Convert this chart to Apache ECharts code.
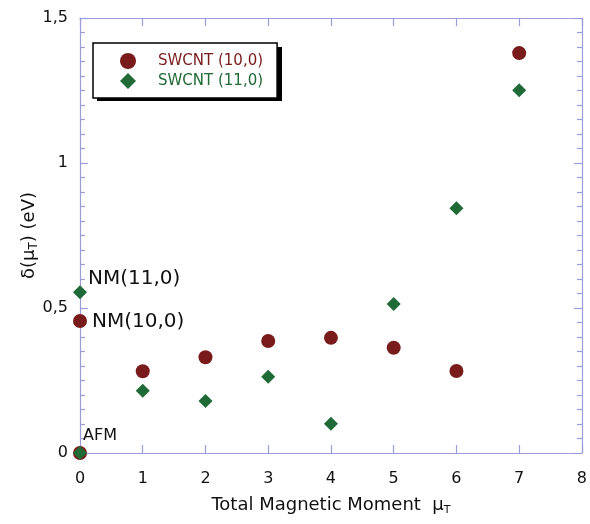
<!DOCTYPE html>
<html>
<head>
<meta charset="utf-8">
<script src="https://cdn.jsdelivr.net/npm/echarts@6/dist/echarts.min.js"></script>
<style>html,body{margin:0;padding:0;background:#fff;}#chart{width:590px;height:524px;}</style>
</head>
<body>
<div id="chart"></div>
<script>
// Data
const seriesNames = ['SWCNT (10,0)', 'SWCNT (11,0)'];
const momentsA = [0, 0, 1, 2, 3, 4, 5, 6, 7];
const swcnt10 = [0, 0.455, 0.282, 0.330, 0.386, 0.397, 0.363, 0.283, 1.379];
const momentsB = [0, 0, 1, 2, 3, 4, 5, 6, 7];
const swcnt11 = [0, 0.554, 0.215, 0.179, 0.263, 0.101, 0.514, 0.844, 1.251];
// annotations: [series index, point index, text]
const annotations = [[0, 1, 'NM(10,0)'], [1, 1, 'NM(11,0)'], [1, 0, 'AFM']];
const xTicks = [0, 1, 2, 3, 4, 5, 6, 7, 8];
const yTicks = [0, 0.5, 1, 1.5];

const RED = '#7a1b1b', GREEN = '#1f6a36', AXIS = '#9c9cdc';
const FONT = 'DejaVu Sans';

const labelStyles = {
  'NM(10,0)': { position: 'right', distance: 5, offset: [0, 1], fontSize: 20 },
  'NM(11,0)': { position: 'right', distance: 5, offset: [-4, -14], fontSize: 20 },
  'AFM': { position: 'right', distance: 5, offset: [-9, -17], fontSize: 16 }
};

function build(xs, ys, sIdx) {
  return ys.map((v, i) => {
    const item = { value: [xs[i], v] };
    const ann = annotations.find(a => a[0] === sIdx && a[1] === i);
    if (ann) {
      const st = labelStyles[ann[2]];
      item.label = Object.assign({ show: true, formatter: ann[2], color: '#111', fontFamily: FONT }, st);
    }
    return item;
  });
}

const axisCommon = {
  axisLine: { show: true, onZero: false, lineStyle: { color: AXIS, width: 1.2 } },
  axisTick: { show: true, inside: true, length: 8, lineStyle: { color: AXIS, width: 1.2 } },
  splitLine: { show: false }
};

const chart = echarts.init(document.getElementById('chart'), null, { renderer: 'canvas' });
chart.setOption({
  backgroundColor: '#fff',
  animation: false,
  textStyle: { fontFamily: FONT },
  grid: { left: 80, right: 5, top: 18, bottom: 71, containLabel: false },
  graphic: [{
    type: 'rect', z: 3, silent: true,
    shape: { x: 97, y: 47, width: 185, height: 54 },
    style: { fill: '#000' }
  }],
  legend: {
    orient: 'vertical',
    left: 93, top: 43, z: 4,
    padding: [10, 14, 9, 27],
    itemWidth: 16, itemHeight: 16, itemGap: 4,
    backgroundColor: '#fff',
    borderColor: '#000', borderWidth: 1.5, borderRadius: 0,
    textStyle: { fontSize: 15, fontFamily: FONT, padding: [0, 0, 0, 17] },
    data: [
      { name: seriesNames[0], icon: 'circle', textStyle: { color: RED } },
      { name: seriesNames[1], icon: 'diamond', textStyle: { color: GREEN } }
    ]
  },
  xAxis: [
    Object.assign({}, axisCommon, {
      type: 'value', position: 'bottom', min: xTicks[0], max: xTicks[xTicks.length - 1], interval: 1,
      axisLabel: { show: true, color: '#111', fontSize: 16, margin: 18, fontFamily: FONT },
      name: '{a|Total Magnetic Moment  μ}{s|T}',
      nameLocation: 'middle', nameGap: 41,
      nameTextStyle: {
        rich: {
          a: { fontSize: 18, color: '#111', fontFamily: FONT, lineHeight: 22 },
          s: { fontSize: 11, color: '#111', fontFamily: FONT, verticalAlign: 'bottom', lineHeight: 22, padding: [8, 0, 0, 0] }
        }
      }
    }),
    Object.assign({}, axisCommon, {
      type: 'value', position: 'top', min: xTicks[0], max: xTicks[xTicks.length - 1], interval: 1,
      axisLabel: { show: false }
    })
  ],
  yAxis: [
    Object.assign({}, axisCommon, {
      type: 'value', position: 'left', min: yTicks[0], max: yTicks[yTicks.length - 1], interval: 0.5,
      minorTick: { show: true, splitNumber: 10, length: 5, lineStyle: { color: AXIS, width: 1.2 } },
      minorSplitLine: { show: false },
      axisLabel: {
        show: true, color: '#111', fontSize: 16, margin: 12, fontFamily: FONT,
        formatter: v => String(v).replace('.', ',')
      },
      name: '{a|δ(μ}{s|T}{a|) (eV)}',
      nameLocation: 'middle', nameGap: 40, nameRotate: 90, nameMoveOverlap: false,
      nameTextStyle: {
        rich: {
          a: { fontSize: 18, color: '#111', fontFamily: FONT, lineHeight: 22 },
          s: { fontSize: 12, color: '#111', fontFamily: FONT, verticalAlign: 'bottom', lineHeight: 22, padding: [8, 0, 0, 0] }
        }
      }
    }),
    Object.assign({}, axisCommon, {
      type: 'value', position: 'right', min: yTicks[0], max: yTicks[yTicks.length - 1], interval: 0.5,
      minorTick: { show: true, splitNumber: 10, length: 5, lineStyle: { color: AXIS, width: 1.2 } },
      axisLabel: { show: false }
    })
  ],
  series: [
    {
      name: seriesNames[0], type: 'scatter', xAxisIndex: 0, yAxisIndex: 0,
      symbol: 'circle', symbolSize: 14, clip: false, z: 2,
      itemStyle: { color: RED, opacity: 1 },
      data: build(momentsA, swcnt10, 0)
    },
    {
      name: seriesNames[1], type: 'scatter', xAxisIndex: 0, yAxisIndex: 0,
      symbol: 'diamond', symbolSize: 14, clip: false, z: 3,
      itemStyle: { color: GREEN, opacity: 1 },
      data: build(momentsB, swcnt11, 1)
    }
  ]
});
</script>
</body>
</html>
